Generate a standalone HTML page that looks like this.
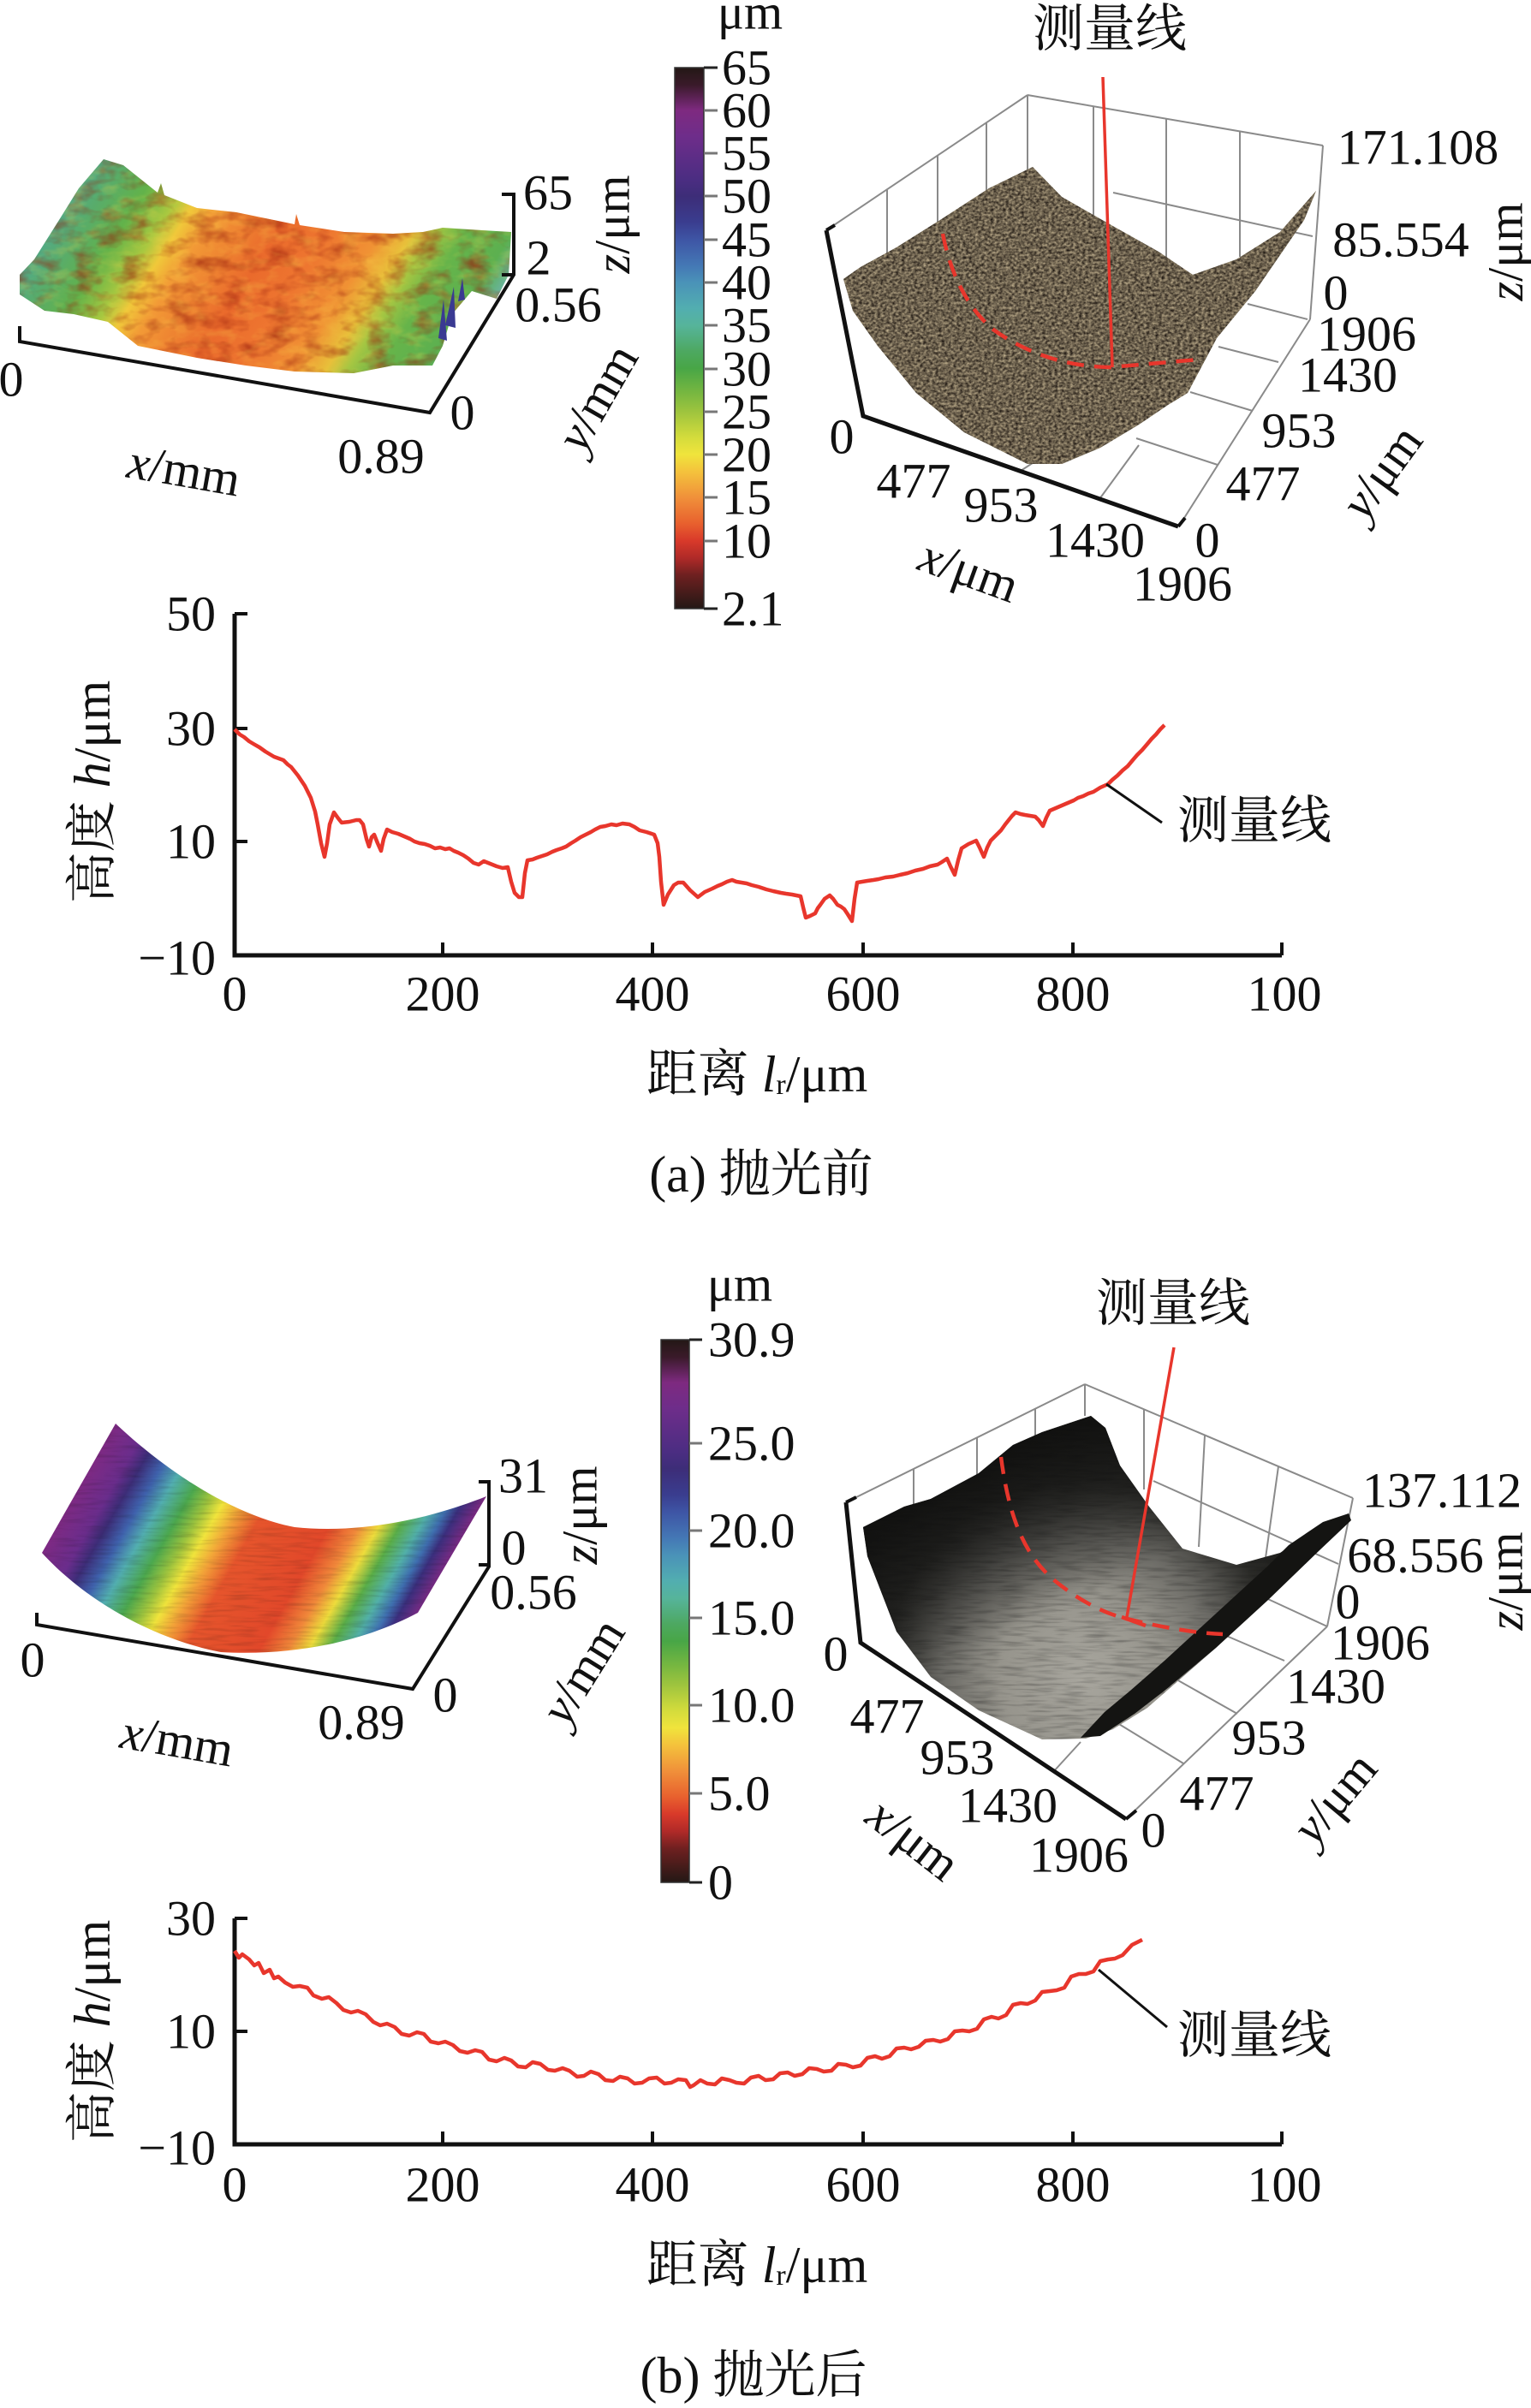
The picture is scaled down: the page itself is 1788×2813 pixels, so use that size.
<!DOCTYPE html>
<html><head><meta charset="utf-8"><style>
html,body{margin:0;padding:0;background:#fff}
svg{display:block}
.t{font-family:"Liberation Serif","Noto Serif CJK SC",serif;font-size:58px;fill:#111}
.c{font-family:"Liberation Serif","Noto Serif CJK SC",serif;font-size:60px;fill:#111}
</style></head><body>
<svg width="1788" height="2813" viewBox="0 0 1788 2813" xmlns="http://www.w3.org/2000/svg">
<defs>
<linearGradient id="cb" x1="0" y1="0" x2="0" y2="1">
<stop offset="0" stop-color="#231815"/><stop offset="0.032" stop-color="#3a1a2a"/>
<stop offset="0.079" stop-color="#7e2a80"/><stop offset="0.127" stop-color="#6e2d8a"/>
<stop offset="0.207" stop-color="#4b2d82"/><stop offset="0.238" stop-color="#3d2d78"/>
<stop offset="0.286" stop-color="#3a3d8f"/><stop offset="0.318" stop-color="#3e55a5"/>
<stop offset="0.366" stop-color="#4478b5"/><stop offset="0.397" stop-color="#4a92b8"/>
<stop offset="0.445" stop-color="#52aeb0"/><stop offset="0.477" stop-color="#56b49a"/>
<stop offset="0.525" stop-color="#4da860"/><stop offset="0.556" stop-color="#48a646"/>
<stop offset="0.604" stop-color="#7ab840"/><stop offset="0.636" stop-color="#9ec43e"/>
<stop offset="0.684" stop-color="#d4dc3c"/><stop offset="0.715" stop-color="#f0e43c"/>
<stop offset="0.747" stop-color="#f4c23c"/><stop offset="0.795" stop-color="#f0903a"/>
<stop offset="0.843" stop-color="#e8602e"/><stop offset="0.874" stop-color="#d93a2a"/>
<stop offset="0.906" stop-color="#b02a28"/><stop offset="0.938" stop-color="#6e2020"/>
<stop offset="1" stop-color="#231815"/>
</linearGradient>
<linearGradient id="gA" gradientUnits="userSpaceOnUse" x1="60" y1="200" x2="500" y2="477">
<stop offset="0" stop-color="#4aa8a8"/><stop offset="0.12" stop-color="#58ac6c"/>
<stop offset="0.2" stop-color="#62b24a"/><stop offset="0.27" stop-color="#a8c840"/>
<stop offset="0.31" stop-color="#f0c83a"/><stop offset="0.36" stop-color="#f29a36"/>
<stop offset="0.5" stop-color="#ea6a2c"/><stop offset="0.6" stop-color="#ee7630"/>
<stop offset="0.7" stop-color="#f09234"/><stop offset="0.76" stop-color="#e8c03a"/>
<stop offset="0.8" stop-color="#a6c642"/><stop offset="0.86" stop-color="#66b44a"/>
<stop offset="0.95" stop-color="#5cb050"/><stop offset="1" stop-color="#6ab4a0"/>
</linearGradient>
<linearGradient id="gB" gradientUnits="userSpaceOnUse" x1="135" y1="1663" x2="499" y2="1870">
<stop offset="0" stop-color="#7e2a83"/><stop offset="0.08" stop-color="#6a2d8c"/>
<stop offset="0.12" stop-color="#3d2d78"/><stop offset="0.17" stop-color="#3f62ad"/>
<stop offset="0.22" stop-color="#52aeb0"/><stop offset="0.28" stop-color="#4ca84e"/>
<stop offset="0.33" stop-color="#9ec43e"/><stop offset="0.37" stop-color="#f0e43c"/>
<stop offset="0.42" stop-color="#f2a038"/><stop offset="0.48" stop-color="#e6552c"/>
<stop offset="0.66" stop-color="#e2482a"/><stop offset="0.73" stop-color="#f0883a"/>
<stop offset="0.78" stop-color="#eedc3c"/><stop offset="0.83" stop-color="#5aae48"/>
<stop offset="0.88" stop-color="#52b0a8"/><stop offset="0.92" stop-color="#3f6fb0"/>
<stop offset="0.95" stop-color="#3b2f7e"/><stop offset="1" stop-color="#7e2a83"/>
</linearGradient>
<radialGradient id="gS" gradientUnits="userSpaceOnUse" cx="1265" cy="1960" r="330">
<stop offset="0" stop-color="#a8a69e"/><stop offset="0.3" stop-color="#96948c"/>
<stop offset="0.5" stop-color="#6a6964"/><stop offset="0.7" stop-color="#2a2a27"/>
<stop offset="1" stop-color="#111110"/>
</radialGradient>
<linearGradient id="gWall" gradientUnits="userSpaceOnUse" x1="1100" y1="1700" x2="1200" y2="1900">
<stop offset="0" stop-color="#0e0e0d" stop-opacity="0.95"/>
<stop offset="0.5" stop-color="#151514" stop-opacity="0.6"/>
<stop offset="1" stop-color="#151514" stop-opacity="0"/>
</linearGradient>
<filter id="fDark" x="0" y="0" width="1" height="1" color-interpolation-filters="sRGB">
<feTurbulence type="fractalNoise" baseFrequency="0.035 0.06" numOctaves="3" seed="4" result="n"/>
<feColorMatrix in="n" type="matrix" values="0 0 0 0 0.6  0 0 0 0 0.12  0 0 0 0 0.05  1.4 0 0 0 -0.62" result="m"/>
<feComposite in="m" in2="SourceGraphic" operator="in"/>
</filter>
<filter id="fLight" x="0" y="0" width="1" height="1" color-interpolation-filters="sRGB">
<feTurbulence type="fractalNoise" baseFrequency="0.04 0.07" numOctaves="3" seed="9" result="n"/>
<feColorMatrix in="n" type="matrix" values="0 0 0 0 0.98  0 0 0 0 0.85  0 0 0 0 0.3  0 1.4 0 0 -0.66" result="m"/>
<feComposite in="m" in2="SourceGraphic" operator="in"/>
</filter>
<filter id="fTex" x="0" y="0" width="1" height="1" color-interpolation-filters="sRGB">
<feTurbulence type="fractalNoise" baseFrequency="0.28 0.34" numOctaves="2" seed="2" result="n"/>
<feColorMatrix in="n" type="matrix" values="0.85 0 0 0 0.0  0.8 0 0 0 -0.02  0.65 0 0 0 -0.02  0 0 0 0 1" result="m"/>
<feComposite in="m" in2="SourceGraphic" operator="in"/>
</filter>
<filter id="fStreak" x="0" y="0" width="1" height="1" color-interpolation-filters="sRGB">
<feTurbulence type="fractalNoise" baseFrequency="0.03 0.3" numOctaves="2" seed="6" result="n"/>
<feColorMatrix in="n" type="matrix" values="0 0 0 0 0.05  0 0 0 0 0.05  0 0 0 0 0.05  1.4 0 0 0 -0.62" result="m"/>
<feComposite in="m" in2="SourceGraphic" operator="in"/>
</filter>
</defs>
<rect width="1788" height="2813" fill="#fff"/>

<!-- ===================== (a) ===================== -->
<g>
<path d="M23,344 L23,321 L40,303 L69,257 L92,220 L121,186 L144,193 L184,225 L188,214 L192,228 L230,243 L276,248 L344,262 L346,250 L350,263 L402,271 L459,273 L494,271 L517,266 L563,269 L597,271 L594,321 L580,349 L551,340 L528,367 L517,404 L505,427 L459,427 L413,436 L344,434 L287,427 L230,418 L161,404 L126,376 L86,367 L52,363 Z" fill="url(#gA)"/>
<path d="M23,344 L23,321 L40,303 L69,257 L92,220 L121,186 L144,193 L184,225 L188,214 L192,228 L230,243 L276,248 L344,262 L346,250 L350,263 L402,271 L459,273 L494,271 L517,266 L563,269 L597,271 L594,321 L580,349 L551,340 L528,367 L517,404 L505,427 L459,427 L413,436 L344,434 L287,427 L230,418 L161,404 L126,376 L86,367 L52,363 Z" fill="#000" filter="url(#fDark)"/>
<path d="M23,344 L23,321 L40,303 L69,257 L92,220 L121,186 L144,193 L184,225 L188,214 L192,228 L230,243 L276,248 L344,262 L346,250 L350,263 L402,271 L459,273 L494,271 L517,266 L563,269 L597,271 L594,321 L580,349 L551,340 L528,367 L517,404 L505,427 L459,427 L413,436 L344,434 L287,427 L230,418 L161,404 L126,376 L86,367 L52,363 Z" fill="#000" filter="url(#fLight)" opacity="0.5"/>
<path d="M512,395 L518,350 L522,398 Z M520,380 L530,335 L532,383 Z M535,352 L540,325 L543,350 Z" fill="#3a3a92"/>
</g>
<polyline points="23,381 23,399 502,482 600,321 600,227 586,227" fill="none" stroke="#111" stroke-width="4"/>
<line x1="586" y1="321" x2="600" y2="321" stroke="#111" stroke-width="4"/>
<text class="t" x="640" y="225" text-anchor="middle" dominant-baseline="central">65</text>
<text class="t" x="629" y="301" text-anchor="middle" dominant-baseline="central">2</text>
<text class="t" transform="rotate(-90 715 262)" x="715" y="262" text-anchor="middle" dominant-baseline="central"><tspan font-style="italic">z</tspan>/μm</text>
<text class="t" x="652" y="356" text-anchor="middle" dominant-baseline="central">0.56</text>
<text class="t" transform="rotate(-60 697 464)" x="697" y="464" text-anchor="middle" dominant-baseline="central"><tspan font-style="italic">y</tspan>/mm</text>
<text class="t" x="540" y="482" text-anchor="middle" dominant-baseline="central">0</text>
<text class="t" x="445" y="533" text-anchor="middle" dominant-baseline="central">0.89</text>
<text class="t" transform="rotate(10 215 549)" x="215" y="549" text-anchor="middle" dominant-baseline="central"><tspan font-style="italic">x</tspan>/mm</text>
<text class="t" x="13" y="443" text-anchor="middle" dominant-baseline="central">0</text>

<!-- colorbar a -->
<text class="t" x="876" y="14" text-anchor="middle" dominant-baseline="central">μm</text>
<rect x="788" y="79" width="34" height="632" fill="url(#cb)" stroke="#333" stroke-width="1.5"/>
<g stroke="#777" stroke-width="3">
<line x1="822" y1="79" x2="838" y2="79" stroke="#222"/><line x1="822" y1="129" x2="838" y2="129"/><line x1="822" y1="179" x2="838" y2="179"/>
<line x1="822" y1="229" x2="838" y2="229"/><line x1="822" y1="280" x2="838" y2="280"/><line x1="822" y1="330" x2="838" y2="330"/>
<line x1="822" y1="380" x2="838" y2="380"/><line x1="822" y1="431" x2="838" y2="431"/><line x1="822" y1="481" x2="838" y2="481"/>
<line x1="822" y1="531" x2="838" y2="531"/><line x1="822" y1="581" x2="838" y2="581"/><line x1="822" y1="632" x2="838" y2="632"/>
<line x1="822" y1="711" x2="838" y2="711" stroke="#222"/>
</g>
<text class="t" x="843" y="79" dominant-baseline="central">65</text>
<text class="t" x="843" y="129" dominant-baseline="central">60</text>
<text class="t" x="843" y="179" dominant-baseline="central">55</text>
<text class="t" x="843" y="229" dominant-baseline="central">50</text>
<text class="t" x="843" y="280" dominant-baseline="central">45</text>
<text class="t" x="843" y="330" dominant-baseline="central">40</text>
<text class="t" x="843" y="380" dominant-baseline="central">35</text>
<text class="t" x="843" y="431" dominant-baseline="central">30</text>
<text class="t" x="843" y="481" dominant-baseline="central">25</text>
<text class="t" x="843" y="531" dominant-baseline="central">20</text>
<text class="t" x="843" y="581" dominant-baseline="central">15</text>
<text class="t" x="843" y="632" dominant-baseline="central">10</text>
<text class="t" x="843" y="711" dominant-baseline="central">2.1</text>

<!-- right 3D a -->
<g stroke="#8a8a8a" stroke-width="2" fill="none">
<line x1="965" y1="269" x2="1200" y2="111"/>
<line x1="1200" y1="111" x2="1545" y2="170"/>
<line x1="1545" y1="170" x2="1530" y2="373"/>
<line x1="1036" y1="222" x2="1036" y2="300"/>
<line x1="1095" y1="182" x2="1095" y2="262"/>
<line x1="1152" y1="143" x2="1152" y2="225"/>
<line x1="1200" y1="111" x2="1200" y2="200"/>
<line x1="1277" y1="124" x2="1277" y2="255"/>
<line x1="1362" y1="139" x2="1362" y2="317"/>
<line x1="1448" y1="154" x2="1448" y2="300"/>
<line x1="1533" y1="276" x2="1300" y2="225"/>
<line x1="1530" y1="373" x2="1378" y2="613"/>
<line x1="1527" y1="373" x2="1457" y2="355"/>
<line x1="1493" y1="423" x2="1423" y2="405"/>
<line x1="1463" y1="480" x2="1390" y2="458"/>
<line x1="1422" y1="543" x2="1327" y2="512"/>
<line x1="1284" y1="583" x2="1330" y2="520"/>
<line x1="1192" y1="550" x2="1215" y2="535"/>
</g>
<path d="M985,326 L1005,312 L1047,289 L1098,257 L1155,220 L1206,195 L1240,230 L1296,262 L1353,294 L1393,321 L1444,303 L1495,271 L1537,223 L1523,257 L1466,340 L1421,395 L1387,459 L1364,473 L1330,496 L1285,523 L1240,542 L1200,542 L1126,505 L1070,459 L1025,404 L996,363 Z" fill="#66604e"/>
<path d="M985,326 L1005,312 L1047,289 L1098,257 L1155,220 L1206,195 L1240,230 L1296,262 L1353,294 L1393,321 L1444,303 L1495,271 L1537,223 L1523,257 L1466,340 L1421,395 L1387,459 L1364,473 L1330,496 L1285,523 L1240,542 L1200,542 L1126,505 L1070,459 L1025,404 L996,363 Z" fill="#000" filter="url(#fTex)"/>
<polyline points="965,269 1008,486 1376,615" fill="none" stroke="#111" stroke-width="5"/>
<line x1="965" y1="269" x2="975" y2="263" stroke="#111" stroke-width="4"/>
<line x1="1376" y1="615" x2="1384" y2="605" stroke="#111" stroke-width="4"/>
<line x1="1288" y1="90" x2="1299" y2="429" stroke="#e8362c" stroke-width="3.5"/>
<path d="M1101,273 C1110,320 1130,360 1160,385 C1195,410 1240,428 1296,429 L1400,420" fill="none" stroke="#e8362c" stroke-width="4.5" stroke-dasharray="20 12"/>
<text class="c" x="1296" y="34" text-anchor="middle" dominant-baseline="central">测量线</text>
<text class="t" x="1656" y="172" text-anchor="middle" dominant-baseline="central">171.108</text>
<text class="t" x="1636" y="280" text-anchor="middle" dominant-baseline="central">85.554</text>
<text class="t" x="1560" y="342" text-anchor="middle" dominant-baseline="central">0</text>
<text class="t" x="1596" y="390" text-anchor="middle" dominant-baseline="central">1906</text>
<text class="t" x="1574" y="438" text-anchor="middle" dominant-baseline="central">1430</text>
<text class="t" x="1517" y="503" text-anchor="middle" dominant-baseline="central">953</text>
<text class="t" x="1475" y="565" text-anchor="middle" dominant-baseline="central">477</text>
<text class="t" x="1410" y="631" text-anchor="middle" dominant-baseline="central">0</text>
<text class="t" x="1381" y="682" text-anchor="middle" dominant-baseline="central">1906</text>
<text class="t" x="1279" y="631" text-anchor="middle" dominant-baseline="central">1430</text>
<text class="t" x="1169" y="590" text-anchor="middle" dominant-baseline="central">953</text>
<text class="t" x="1067" y="562" text-anchor="middle" dominant-baseline="central">477</text>
<text class="t" x="983" y="510" text-anchor="middle" dominant-baseline="central">0</text>
<text class="t" transform="rotate(20 1132 666)" x="1132" y="666" text-anchor="middle" dominant-baseline="central"><tspan font-style="italic">x</tspan>/μm</text>
<text class="t" transform="rotate(-54 1613 551)" x="1613" y="551" text-anchor="middle" dominant-baseline="central"><tspan font-style="italic">y</tspan>/μm</text>
<text class="t" transform="rotate(-90 1758 294)" x="1758" y="294" text-anchor="middle" dominant-baseline="central"><tspan font-style="italic">z</tspan>/μm</text>

<!-- profile a -->
<polyline points="274,717 274,1116 1497,1116" fill="none" stroke="#111" stroke-width="5"/>
<g stroke="#111" stroke-width="4">
<line x1="274" y1="717" x2="289" y2="717"/><line x1="274" y1="851" x2="289" y2="851"/><line x1="274" y1="983" x2="289" y2="983"/>
<line x1="517" y1="1116" x2="517" y2="1101"/><line x1="762" y1="1116" x2="762" y2="1101"/><line x1="1008" y1="1116" x2="1008" y2="1101"/>
<line x1="1253" y1="1116" x2="1253" y2="1101"/><line x1="1497" y1="1116" x2="1497" y2="1101"/>
</g>
<text class="t" x="252" y="717" text-anchor="end" dominant-baseline="central">50</text>
<text class="t" x="252" y="851" text-anchor="end" dominant-baseline="central">30</text>
<text class="t" x="252" y="983" text-anchor="end" dominant-baseline="central">10</text>
<text class="t" x="252" y="1119" text-anchor="end" dominant-baseline="central">−10</text>
<text class="t" x="274" y="1161" text-anchor="middle" dominant-baseline="central">0</text>
<text class="t" x="517" y="1161" text-anchor="middle" dominant-baseline="central">200</text>
<text class="t" x="762" y="1161" text-anchor="middle" dominant-baseline="central">400</text>
<text class="t" x="1008" y="1161" text-anchor="middle" dominant-baseline="central">600</text>
<text class="t" x="1253" y="1161" text-anchor="middle" dominant-baseline="central">800</text>
<text class="t" x="1500" y="1161" text-anchor="middle" dominant-baseline="central">100</text>
<polyline fill="none" stroke="#e8362c" stroke-width="4.5" stroke-linejoin="round" points="274,852 280,858 285,861 291,866 296,869 303,873 310,878 320,884 331,888 336,893 340,896 344,901 348,906 356,918 363,932 368,948 371,963 375,985 379,1001 382,985 385,963 390,949 395,956 399,961 408,960 416,958 420,958 424,963 428,980 431,989 434,978 437,975 441,985 445,994 448,980 452,969 458,972 465,974 472,977 479,980 484,983 490,985 496,986 502,988 508,991 514,990 520,992 525,991 530,994 535,996 541,999 547,1003 553,1008 559,1010 565,1006 570,1008 575,1010 580,1012 587,1014 593,1013 597,1030 601,1043 606,1048 610,1048 613,1020 616,1005 622,1004 627,1002 633,1000 639,998 645,995 650,993 656,991 661,989 667,985 672,982 678,978 684,975 690,972 695,969 701,966 707,965 714,963 720,964 727,962 735,963 741,966 747,970 755,972 764,975 768,985 770,1001 772,1030 775,1057 780,1045 787,1034 792,1031 798,1031 806,1040 815,1048 823,1042 832,1038 838,1035 843,1033 849,1030 855,1028 860,1030 866,1031 872,1032 878,1034 886,1036 895,1039 903,1041 912,1043 918,1044 925,1045 930,1046 935,1047 938,1060 941,1072 946,1070 952,1067 955,1061 958,1057 963,1050 969,1046 973,1050 978,1057 982,1059 986,1062 990,1068 995,1076 998,1050 1001,1031 1007,1030 1013,1029 1020,1028 1026,1027 1034,1025 1043,1024 1051,1022 1060,1020 1069,1017 1078,1015 1086,1012 1095,1010 1100,1007 1106,1003 1110,1012 1115,1022 1119,1005 1123,991 1131,986 1140,982 1144,990 1149,1001 1153,990 1157,982 1163,976 1169,970 1174,963 1178,958 1182,953 1186,949 1192,951 1197,952 1203,953 1209,954 1213,958 1218,965 1222,955 1226,947 1233,944 1240,941 1247,938 1254,935 1259,932 1265,930 1271,927 1277,925 1285,920 1294,916 1299,911 1305,906 1311,900 1317,895 1322,889 1328,882 1334,876 1340,869 1345,863 1350,858 1355,852 1360,847"/>
<line x1="1292" y1="916" x2="1357" y2="961" stroke="#111" stroke-width="3"/>
<text class="c" x="1465" y="959" text-anchor="middle" dominant-baseline="central">测量线</text>
<text class="c" transform="rotate(-90 108 925)" x="108" y="925" text-anchor="middle" dominant-baseline="central">高度 <tspan font-style="italic">h</tspan>/μm</text>
<text class="c" x="884" y="1255" text-anchor="middle" dominant-baseline="central">距离 <tspan font-style="italic">l</tspan><tspan font-size="34" dy="12">r</tspan><tspan dy="-12">/μm</tspan></text>
<text class="c" x="889" y="1372" text-anchor="middle" dominant-baseline="central" font-size="62">(a) 抛光前</text>

<!-- ===================== (b) ===================== -->
<path d="M135,1663 C190,1715 270,1770 344,1784 C420,1792 500,1775 568,1748 L488,1884 C430,1915 350,1935 258,1930 C180,1915 100,1870 49,1814 Z" fill="url(#gB)"/>
<path d="M135,1663 C190,1715 270,1770 344,1784 C420,1792 500,1775 568,1748 L488,1884 C430,1915 350,1935 258,1930 C180,1915 100,1870 49,1814 Z" fill="#000" filter="url(#fStreak)" opacity="0.25"/>
<polyline points="43,1884 43,1898 482,1973 571,1830 571,1731 559,1731" fill="none" stroke="#111" stroke-width="4"/>
<line x1="559" y1="1828" x2="571" y2="1828" stroke="#111" stroke-width="4"/>
<text class="t" x="611" y="1724" text-anchor="middle" dominant-baseline="central">31</text>
<text class="t" x="600" y="1808" text-anchor="middle" dominant-baseline="central">0</text>
<text class="t" transform="rotate(-90 677 1770)" x="677" y="1770" text-anchor="middle" dominant-baseline="central"><tspan font-style="italic">z</tspan>/μm</text>
<text class="t" x="623" y="1860" text-anchor="middle" dominant-baseline="central">0.56</text>
<text class="t" transform="rotate(-58 680 1952)" x="680" y="1952" text-anchor="middle" dominant-baseline="central"><tspan font-style="italic">y</tspan>/mm</text>
<text class="t" x="520" y="1980" text-anchor="middle" dominant-baseline="central">0</text>
<text class="t" x="422" y="2012" text-anchor="middle" dominant-baseline="central">0.89</text>
<text class="t" transform="rotate(10 207 2033)" x="207" y="2033" text-anchor="middle" dominant-baseline="central"><tspan font-style="italic">x</tspan>/mm</text>
<text class="t" x="38" y="1939" text-anchor="middle" dominant-baseline="central">0</text>

<!-- colorbar b -->
<text class="t" x="864" y="1500" text-anchor="middle" dominant-baseline="central">μm</text>
<rect x="772" y="1565" width="33" height="634" fill="url(#cb)" stroke="#333" stroke-width="1.5"/>
<g stroke="#777" stroke-width="3">
<line x1="805" y1="1565" x2="820" y2="1565" stroke="#222"/><line x1="805" y1="1686" x2="820" y2="1686"/>
<line x1="805" y1="1788" x2="820" y2="1788"/><line x1="805" y1="1890" x2="820" y2="1890"/>
<line x1="805" y1="1992" x2="820" y2="1992"/><line x1="805" y1="2095" x2="820" y2="2095"/>
<line x1="805" y1="2199" x2="820" y2="2199" stroke="#222"/>
</g>
<text class="t" x="827" y="1565" dominant-baseline="central">30.9</text>
<text class="t" x="827" y="1686" dominant-baseline="central">25.0</text>
<text class="t" x="827" y="1788" dominant-baseline="central">20.0</text>
<text class="t" x="827" y="1890" dominant-baseline="central">15.0</text>
<text class="t" x="827" y="1992" dominant-baseline="central">10.0</text>
<text class="t" x="827" y="2095" dominant-baseline="central">5.0</text>
<text class="t" x="827" y="2199" dominant-baseline="central">0</text>

<!-- right 3D b -->
<g stroke="#8a8a8a" stroke-width="2" fill="none">
<line x1="988" y1="1755" x2="1267" y2="1617"/>
<line x1="1267" y1="1617" x2="1580" y2="1750"/>
<line x1="1580" y1="1750" x2="1550" y2="1900"/>
<line x1="1067" y1="1716" x2="1067" y2="1789"/>
<line x1="1141" y1="1680" x2="1141" y2="1731"/>
<line x1="1209" y1="1646" x2="1209" y2="1678"/>
<line x1="1267" y1="1617" x2="1267" y2="1654"/>
<line x1="1336" y1="1646" x2="1336" y2="1740"/>
<line x1="1407" y1="1677" x2="1400" y2="1807"/>
<line x1="1493" y1="1713" x2="1478" y2="1820"/>
<line x1="1563" y1="1827" x2="1347" y2="1730"/>
<line x1="1550" y1="1900" x2="1315" y2="2125"/>
<line x1="1550" y1="1900" x2="1470" y2="1863"/>
<line x1="1500" y1="1940" x2="1430" y2="1910"/>
<line x1="1445" y1="2002" x2="1367" y2="1958"/>
<line x1="1382" y1="2060" x2="1297" y2="2008"/>
<line x1="1230" y1="2070" x2="1262" y2="2035"/>
</g>
<path d="M1008,1784 L1056,1760 L1087,1751 L1143,1721 L1183,1688 L1217,1673 L1274,1654 L1291,1668 L1308,1712 L1342,1760 L1381,1809 L1444,1828 L1495,1814 L1540,1784 L1575,1768 L1567,1785 L1500,1850 L1420,1925 L1340,1995 L1300,2020 L1268,2031 L1217,2032 L1143,1998 L1087,1959 L1047,1906 L1013,1818 Z" fill="url(#gS)"/>
<path d="M1008,1784 L1056,1760 L1087,1751 L1143,1721 L1183,1688 L1217,1673 L1274,1654 L1291,1668 L1308,1712 L1342,1760 L1381,1809 L1444,1828 L1495,1814 L1540,1784 L1575,1768 L1567,1785 L1500,1850 L1420,1925 L1340,1995 L1300,2020 L1268,2031 L1217,2032 L1143,1998 L1087,1959 L1047,1906 L1013,1818 Z" fill="url(#gWall)"/>
<path d="M1008,1784 L1056,1760 L1087,1751 L1143,1721 L1183,1688 L1217,1673 L1274,1654 L1291,1668 L1308,1712 L1342,1760 L1381,1809 L1444,1828 L1495,1814 L1540,1784 L1575,1768 L1567,1785 L1500,1850 L1420,1925 L1340,1995 L1300,2020 L1268,2031 L1217,2032 L1143,1998 L1087,1959 L1047,1906 L1013,1818 Z" fill="#000" filter="url(#fStreak)" opacity="0.45"/>
<path d="M1575,1768 L1545,1778 L1505,1805 L1480,1830 L1420,1885 L1360,1940 L1320,1975 L1290,2000 L1262,2030 L1285,2028 L1325,2002 L1360,1975 L1420,1925 L1480,1870 L1540,1812 L1578,1776 Z" fill="#141412"/>
<line x1="1371" y1="1574" x2="1316" y2="1889" stroke="#e8362c" stroke-width="3.5"/>
<line x1="1310" y1="1889" x2="1338" y2="1899" stroke="#e8362c" stroke-width="4.5"/>
<path d="M1169,1702 C1178,1770 1195,1815 1230,1845 C1260,1870 1290,1885 1316,1891 C1360,1902 1400,1908 1428,1909" fill="none" stroke="#e8362c" stroke-width="4.5" stroke-dasharray="20 12"/>
<polyline points="988,1755 1005,1919 1315,2125" fill="none" stroke="#111" stroke-width="5"/>
<line x1="988" y1="1755" x2="1000" y2="1749" stroke="#111" stroke-width="4"/>
<line x1="1315" y1="2125" x2="1327" y2="2115" stroke="#111" stroke-width="4"/>
<text class="c" x="1370" y="1523" text-anchor="middle" dominant-baseline="central">测量线</text>
<text class="t" x="1684" y="1741" text-anchor="middle" dominant-baseline="central">137.112</text>
<text class="t" x="1653" y="1817" text-anchor="middle" dominant-baseline="central">68.556</text>
<text class="t" x="1574" y="1871" text-anchor="middle" dominant-baseline="central">0</text>
<text class="t" x="1612" y="1919" text-anchor="middle" dominant-baseline="central">1906</text>
<text class="t" x="1560" y="1970" text-anchor="middle" dominant-baseline="central">1430</text>
<text class="t" x="1482" y="2030" text-anchor="middle" dominant-baseline="central">953</text>
<text class="t" x="1421" y="2095" text-anchor="middle" dominant-baseline="central">477</text>
<text class="t" x="1347" y="2138" text-anchor="middle" dominant-baseline="central">0</text>
<text class="t" x="1260" y="2167" text-anchor="middle" dominant-baseline="central">1906</text>
<text class="t" x="1177" y="2109" text-anchor="middle" dominant-baseline="central">1430</text>
<text class="t" x="1118" y="2053" text-anchor="middle" dominant-baseline="central">953</text>
<text class="t" x="1036" y="2005" text-anchor="middle" dominant-baseline="central">477</text>
<text class="t" x="976" y="1932" text-anchor="middle" dominant-baseline="central">0</text>
<text class="t" transform="rotate(38 1067 2148)" x="1067" y="2148" text-anchor="middle" dominant-baseline="central"><tspan font-style="italic">x</tspan>/μm</text>
<text class="t" transform="rotate(-50 1558 2100)" x="1558" y="2100" text-anchor="middle" dominant-baseline="central"><tspan font-style="italic">y</tspan>/μm</text>
<text class="t" transform="rotate(-90 1758 1847)" x="1758" y="1847" text-anchor="middle" dominant-baseline="central"><tspan font-style="italic">z</tspan>/μm</text>

<!-- profile b -->
<polyline points="274,2241 274,2505 1497,2505" fill="none" stroke="#111" stroke-width="5"/>
<g stroke="#111" stroke-width="4">
<line x1="274" y1="2241" x2="289" y2="2241"/><line x1="274" y1="2373" x2="289" y2="2373"/>
<line x1="517" y1="2505" x2="517" y2="2490"/><line x1="762" y1="2505" x2="762" y2="2490"/><line x1="1008" y1="2505" x2="1008" y2="2490"/>
<line x1="1253" y1="2505" x2="1253" y2="2490"/><line x1="1497" y1="2505" x2="1497" y2="2490"/>
</g>
<text class="t" x="252" y="2241" text-anchor="end" dominant-baseline="central">30</text>
<text class="t" x="252" y="2373" text-anchor="end" dominant-baseline="central">10</text>
<text class="t" x="252" y="2509" text-anchor="end" dominant-baseline="central">−10</text>
<text class="t" x="274" y="2552" text-anchor="middle" dominant-baseline="central">0</text>
<text class="t" x="517" y="2552" text-anchor="middle" dominant-baseline="central">200</text>
<text class="t" x="762" y="2552" text-anchor="middle" dominant-baseline="central">400</text>
<text class="t" x="1008" y="2552" text-anchor="middle" dominant-baseline="central">600</text>
<text class="t" x="1253" y="2552" text-anchor="middle" dominant-baseline="central">800</text>
<text class="t" x="1500" y="2552" text-anchor="middle" dominant-baseline="central">100</text>
<polyline fill="none" stroke="#e8362c" stroke-width="4.5" stroke-linejoin="round" points="274,2279 279,2287 283,2283 291,2289 297,2296 302,2293 308,2305 315,2301 320,2311 325,2309 333,2316 342,2321 350,2320 359,2322 366,2331 376,2335 384,2333 393,2340 401,2348 410,2351 418,2349 427,2353 436,2362 444,2366 452,2364 461,2368 469,2376 478,2378 487,2374 495,2376 503,2385 512,2387 520,2385 529,2389 537,2396 546,2398 555,2395 563,2397 571,2406 580,2408 589,2404 597,2407 605,2414 614,2415 622,2409 631,2411 640,2418 648,2419 657,2416 665,2419 674,2426 682,2425 690,2420 699,2423 707,2430 716,2431 724,2426 733,2428 741,2434 750,2433 758,2428 767,2427 776,2434 784,2433 792,2429 801,2430 806,2438 810,2436 818,2430 826,2434 835,2435 843,2428 852,2430 860,2433 869,2434 877,2427 886,2425 894,2430 903,2429 911,2422 920,2421 928,2425 937,2423 945,2416 954,2417 962,2420 971,2419 979,2411 988,2412 996,2415 1005,2413 1013,2404 1022,2402 1030,2405 1039,2402 1047,2393 1056,2392 1064,2394 1073,2391 1081,2384 1090,2383 1098,2385 1107,2382 1115,2373 1124,2372 1132,2373 1141,2370 1149,2359 1158,2356 1166,2358 1175,2354 1183,2342 1192,2340 1200,2341 1209,2337 1217,2327 1226,2326 1234,2325 1243,2322 1251,2309 1260,2306 1268,2306 1277,2303 1285,2291 1294,2289 1302,2288 1311,2284 1322,2272 1334,2266"/>
<line x1="1283" y1="2301" x2="1363" y2="2368" stroke="#111" stroke-width="3"/>
<text class="c" x="1465" y="2378" text-anchor="middle" dominant-baseline="central">测量线</text>
<text class="c" transform="rotate(-90 108 2373)" x="108" y="2373" text-anchor="middle" dominant-baseline="central">高度 <tspan font-style="italic">h</tspan>/μm</text>
<text class="c" x="884" y="2646" text-anchor="middle" dominant-baseline="central">距离 <tspan font-style="italic">l</tspan><tspan font-size="34" dy="12">r</tspan><tspan dy="-12">/μm</tspan></text>
<text class="c" x="880" y="2775" text-anchor="middle" dominant-baseline="central" font-size="62">(b) 抛光后</text>
</svg>
</body></html>
